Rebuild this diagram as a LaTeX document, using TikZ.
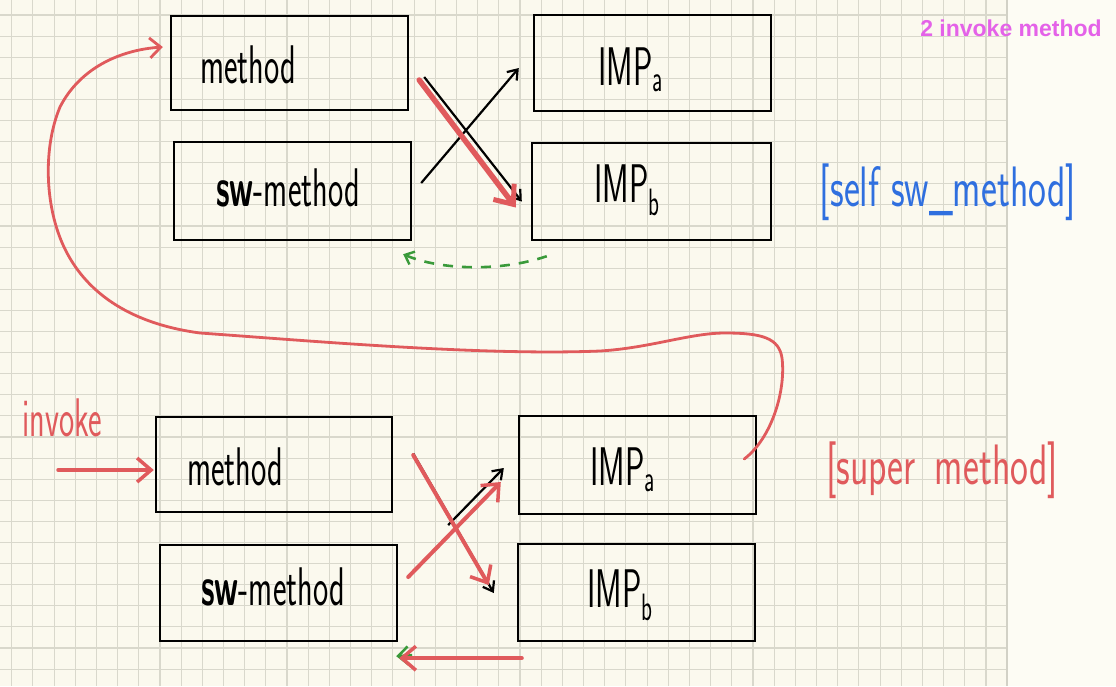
\documentclass[tikz,border=0pt]{standalone}
\usepackage{fontspec}
\newfontfamily\arialfont{Liberation Sans}
\usetikzlibrary{arrows.meta,calc}
\definecolor{paper}{HTML}{FBF9EE}
\definecolor{paperR}{HTML}{FDFCF4}
\definecolor{gridc}{HTML}{D9D8CC}
\definecolor{gridb}{HTML}{D2D1C6}
\definecolor{hred}{HTML}{E05A5C}
\definecolor{hblue}{HTML}{2F6FDF}
\definecolor{hgreen}{HTML}{3A9A3A}
\definecolor{hmag}{HTML}{E462E8}
\newcommand{\hw}[1]{\scalebox{0.95}[1.6]{#1}}
\newcommand{\hb}[1]{\scalebox{1}[1.5]{#1}}
\tikzset{
  gridline/.style={draw=gridc, line width=1.1pt},
  gridbold/.style={draw=gridb, line width=1.6pt},
  box/.style={draw=black, line width=2.4pt, minimum width=237pt, minimum height=96pt, inner sep=0pt},
  handtxt/.style={font=\sffamily\fontsize{34}{34}\selectfont, inner sep=0pt},
  bigtxt/.style={font=\sffamily\fontsize{38}{38}\selectfont, inner sep=0pt},
  redarr/.style={draw=hred, line width=5.5pt, line cap=round, -{Straight Barb[length=16pt,width=26pt,line width=5pt]}},
  redthin/.style={draw=hred, line width=3.5pt, line cap=round, -{Straight Barb[length=14pt,width=24pt,line width=3.5pt]}},
  blackarr/.style={draw=black, line width=2.2pt, -{Straight Barb[length=9pt,width=13pt,line width=2.2pt]}},
  greendash/.style={draw=hgreen, line width=2.6pt, dash pattern=on 10pt off 9pt, -{Straight Barb[length=8pt,width=14pt,line width=2.4pt]}},
}
\begin{document}
\begin{tikzpicture}[x=1pt,y=-1pt]
\useasboundingbox (0,0) rectangle (1116,686);
% paper
\fill[paper] (0,0) rectangle (1007,686);
\fill[paperR] (1007,0) rectangle (1116,686);
\foreach \i in {0,...,46} {
  \draw[gridline] ({11.7+21.18*\i},0) -- ({11.7+21.18*\i},686);
}
\foreach \j in {0,...,31} {
  \draw[gridline] (0,{15+21.1*\j}) -- (1007,{15+21.1*\j});
}
\draw[gridbold] (1007,0) -- (1007,686);

% top boxes
\node[box, minimum height=94pt] (m1) at (289.5,63) {};
\node[box, minimum height=98pt] (s1) at (292.5,191) {};
\node[box] (a1) at (652.5,63) {};
\node[box, minimum width=239pt, minimum height=97pt] (b1) at (651.5,191.5) {};
\node[handtxt] (m1t) at (248,65) {\hw{method}};
\node[handtxt] (s1t) at (288,188) {\hw{\textbf{sw}-method}};
\node[handtxt] (a1t) at (631,70) {\hw{IMP\textsubscript{a}}};
\node[handtxt] (b1t) at (627,190) {\hw{IMP\textsubscript{b}}};

% bottom boxes
\node[box, minimum width=236pt, minimum height=95pt] (m2) at (274,464.5) {};
\node[box] (s2) at (278.5,593) {};
\node[box, minimum height=98pt] (a2) at (637.5,465) {};
\node[box, minimum height=97pt] (b2) at (636.5,592.5) {};
\node[handtxt] (m2t) at (235,467) {\hw{method}};
\node[handtxt] (s2t) at (273,587) {\hw{\textbf{sw}-method}};
\node[handtxt] (a2t) at (623,470) {\hw{IMP\textsubscript{a}}};
\node[handtxt] (b2t) at (620,595) {\hw{IMP\textsubscript{b}}};

% labels
\node[font=\arialfont\bfseries\fontsize{23}{23}\selectfont, text=hmag, inner sep=0pt] (title) at (1011,28) {2 invoke method};
\node[bigtxt, text=hblue] (selfl) at (948,192) {\hb{[self sw\_method]}};
\node[bigtxt, text=hred] (superl) at (942,470) {\hb{[super\enspace method]}};
\node[handtxt, text=hred] (invl) at (62,418) {\hw{invoke}};

% top connectors
\draw[blackarr] ($(s1.east)+(9,-8)$) -- ($(a1.west)+(-14,5)$);
\draw[blackarr] ($(m1.east)+(15,14)$) -- ($(b1.west)+(-9,10)$);
\draw[redarr] ($(m1.east)+(10,17)$) -- ($(b1.west)+(-15,16)$);
\draw[greendash] ($(b1.south west)+(16,15)$) .. controls (500,272) and (440,270) .. ($(s1.south east)+(-9,13)$);

% bottom connectors
\coordinate (inv) at (58,470);
\draw[redthin] (inv) -- ($(m2.west)+(-1,5.5)$);
\draw[blackarr] ($(m2.east)+(20,-11)$) -- ($(b2.west)+(-23,0.5)$);
\draw[blackarr] ($(s2.east)+(50,-68)$) -- ($(a2.west)+(-14,3)$);
\draw[redthin, line width=4pt] ($(m2.east)+(20,-9.5)$) -- ($(b2.west)+(-28,-7.5)$);
\draw[redthin, line width=4pt] ($(s2.east)+(10,-16)$) -- ($(a2.west)+(-17,17)$);
\draw[draw=hgreen, line width=2.6pt, -{Straight Barb[length=10pt,width=18pt,line width=2.6pt]}] ($(s2.south east)+(14,13)$) -- ($(s2.south east)+(-2,14)$);
\draw[redthin, line width=4pt] ($(b2.south west)+(5,16)$) -- ($(s2.south east)+(1,16)$);

% big red curve: super method -> method
\draw[draw=hred, line width=2.8pt, line cap=round, -{Straight Barb[length=11pt,width=20pt,line width=2.8pt]}]
  ($(a2.east)+(-13,-6)$) .. controls (772,438) and (786,390) .. (782,358)
  .. controls (779,338) and (762,333) .. (725,333)
  .. controls (690,333) and (650,348) .. (600,351)
  .. controls (480,356) and (300,340) .. (200,333)
  .. controls (140,325) and (92,300) .. (67,253)
  .. controls (45,212) and (42,150) .. (60,107)
  .. controls (80,68) and (120,50) .. ($(m1.west)+(-7,-16)$);
\end{tikzpicture}
\end{document}
